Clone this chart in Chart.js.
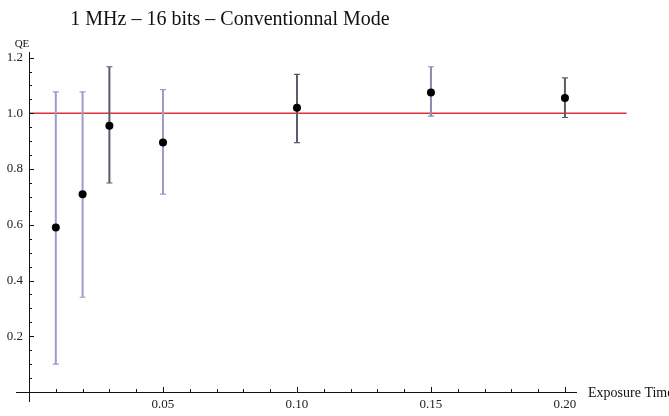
<!DOCTYPE html>
<html>
<head>
<meta charset="utf-8">
<script src="https://cdn.jsdelivr.net/npm/chart.js@4"></script>
<style>
html,body{margin:0;padding:0;background:#fff;}
#wrap{width:669px;height:416px;}
</style>
</head>
<body>
<div id="wrap"><canvas id="qeChart" width="669" height="416"></canvas></div>
<script>
// data
const exposure = [0.01, 0.02, 0.03, 0.05, 0.10, 0.15, 0.20];
const qe = [0.59, 0.71, 0.955, 0.895, 1.02, 1.075, 1.055];
const qeLow = [0.10, 0.34, 0.75, 0.71, 0.895, 0.99, 0.985];
const qeHigh = [1.077, 1.077, 1.167, 1.085, 1.14, 1.167, 1.127];
const refX = [0, 0.223];
const refY = [1.0, 1.0];
const xTicks = [0.05, 0.10, 0.15, 0.20];
const yTicks = [0.2, 0.4, 0.6, 0.8, 1.0, 1.2];

const serif = "'Liberation Serif', 'DejaVu Serif', serif";
const barColors = ['#9c9cca','#9c9cca','#5a5a6a','#9c9cca','#5a5a6a','#8a8aaa','#5a5a6a'];

/* error bars, drawn after the red line and before the points */
const errorBars = {
id:'errorBars',
afterDatasetDraw(chart, args){
if(args.index !== 1) return;
const ctx = chart.ctx;
const xs = chart.scales.x, ys = chart.scales.y;
ctx.save();
exposure.forEach(function(x,i){
let px = xs.getPixelForValue(x);
let top = ys.getPixelForValue(qeHigh[i]);
let bot = ys.getPixelForValue(qeLow[i]);
ctx.strokeStyle = barColors[i];
ctx.lineWidth = 2;
ctx.beginPath();
ctx.moveTo(px,top); ctx.lineTo(px,bot);
ctx.stroke();
ctx.lineWidth = 1.2;
ctx.beginPath();
ctx.moveTo(px-3,top); ctx.lineTo(px+3,top);
ctx.moveTo(px-3,bot); ctx.lineTo(px+3,bot);
ctx.stroke();
});
ctx.restore();
}
};

/* mathematica style axes, ticks and labels */
const axesDecor = {
id:'axesDecor',
afterDraw(chart){
const ctx = chart.ctx;
const xs = chart.scales.x, ys = chart.scales.y;
const x0 = xs.getPixelForValue(0), y0 = ys.getPixelForValue(0);
ctx.save();
ctx.strokeStyle = '#111';
ctx.lineWidth = 1;
ctx.beginPath();
ctx.moveTo(16, y0+0.5); ctx.lineTo(chart.chartArea.right, y0+0.5);
ctx.moveTo(x0+0.5, chart.chartArea.top); ctx.lineTo(x0+0.5, y0+10);
// x ticks
for(let k=1;k*0.01<=xs.max;k++){
let px = Math.round(xs.getPixelForValue(k*0.01))+0.5;
let len = (k%5===0) ? 5 : 3;
ctx.moveTo(px,y0); ctx.lineTo(px,y0-len);
}
// y ticks
for(let k=1;k*0.05<=ys.max;k++){
let py = Math.round(ys.getPixelForValue(k*0.05))+0.5;
let len = (k%4===0) ? 5 : 3;
ctx.moveTo(x0,py); ctx.lineTo(x0+len,py);
}
ctx.stroke();

ctx.fillStyle = '#111';
ctx.font = "20px " + serif;
ctx.textAlign = 'center';
ctx.textBaseline = 'alphabetic';
ctx.fillText('1 MHz \u2013 16 bits \u2013 Conventionnal Mode', 230, 25);

ctx.font = "11px " + serif;
ctx.fillText('QE', 22, 47);

ctx.font = "14px " + serif;
ctx.textAlign = 'left';
ctx.textBaseline = 'middle';
ctx.fillText('Exposure Time', 588, y0+1);
ctx.restore();
}
};

new Chart(document.getElementById("qeChart"),{

type:'scatter',

data:{
datasets:[{
label:'QE',
data: exposure.map((x,i)=>({x:x, y:qe[i]})),
pointRadius:4,
pointHoverRadius:4,
backgroundColor:'#000',
borderWidth:0,
order:0
},{
type:'line',
label:'ref',
data: refX.map((x,i)=>({x:x, y:refY[i]})),
borderColor:'#e0303c',
borderWidth:1.5,
pointRadius:0,
clip:false,
order:1
}]
},

options:{
responsive:false,
animation:false,
layout:{padding:{top:52, right:92, left:0, bottom:0}},

plugins:{
legend:{display:false},
tooltip:{enabled:false},
title:{display:false}
},

scales:{
x:{
type:'linear',
min:0,
max:0.2045,
afterBuildTicks:function(s){ s.ticks = xTicks.map(v=>({value:v})); },
afterFit:function(s){ s.height = 24; },
grid:{display:false, drawTicks:false},
border:{display:false},
ticks:{
padding:5,
maxRotation:0,
autoSkip:false,
color:'#222',
font:{family:serif, size:13},
callback:function(v){ return v.toFixed(2); }
}
},
y:{
type:'linear',
min:0,
max:1.22,
afterBuildTicks:function(s){ s.ticks = yTicks.map(v=>({value:v})); },
afterFit:function(s){ s.width = 29; },
grid:{display:false, drawTicks:false},
border:{display:false},
ticks:{
padding:6,
autoSkip:false,
color:'#222',
font:{family:serif, size:13},
callback:function(v){ return v.toFixed(1); }
}
}
}
},

plugins:[errorBars, axesDecor]

});
</script>
</body>
</html>
